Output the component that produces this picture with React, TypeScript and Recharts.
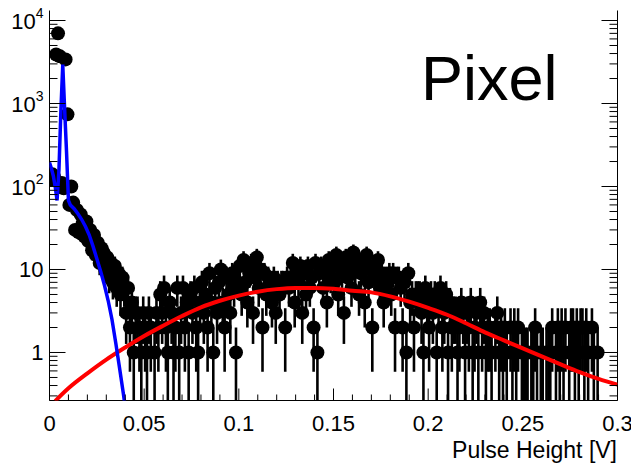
import React from 'react';
import { ComposedChart, XAxis, YAxis, Scatter, ErrorBar } from 'recharts';

const FONT = '"Liberation Sans", Arial, Helvetica, sans-serif';

// Pulse height spectrum: 1 mV bins starting at 0 V
const BIN_WIDTH = 0.001;
const counts = [
  120, 140, 130, 3900, 7000, 3700, 110, 95, 3400, 740,
  60, 100, 64, 30, 52, 28, 46, 36, 25, 38,
  22, 30, 17, 26, 15, 21, 12, 18, 16, 10,
  14, 8, 12, 7, 11, 6, 9, 5, 8, 6,
  3, 6, 2, 4, 1, 3, 3, 2, 1, 3,
  2, 1, 3, 2, 0, 1, 3, 2, 5, 3,
  6, 2, 1, 4, 3, 1, 2, 6, 1, 3,
  6, 2, 4, 1, 5, 3, 6, 2, 1, 4,
  7, 3, 5, 2, 9, 4, 1, 6, 3, 7,
  10, 4, 2, 8, 5, 3, 9, 6, 1, 7,
  11, 5, 13, 7, 4, 9, 12, 3, 8, 14,
  6, 10, 2, 9, 5, 8, 7, 4, 8, 3,
  7, 5, 7, 7, 2, 8, 6, 8, 12, 4,
  10, 7, 11, 3, 9, 5, 11, 6, 8, 2,
  12, 1, 9, 11, 6, 10, 4, 13, 8, 11,
  7, 15, 5, 12, 9, 3, 14, 8, 11, 6,
  16, 10, 13, 5, 9, 12, 4, 15, 7, 10,
  2, 11, 8, 13, 6, 9, 4, 8, 7, 9,
  5, 9, 2, 8, 8, 6, 2, 7, 1, 9,
  4, 5, 2, 5, 5, 5, 3, 1, 6, 4,
  2, 5, 3, 5, 1, 4, 6, 2, 3, 5,
  1, 4, 2, 3, 3, 1, 2, 4, 3, 1,
  3, 2, 4, 1, 2, 3, 1, 4, 2, 3,
  1, 2, 2, 1, 0, 2, 3, 1, 2, 1,
  2, 1, 0, 2, 1, 2, 1, 2, 0, 1,
  1, 1, 1, 0, 1, 1, 2, 1, 0, 1,
  1, 0, 1, 1, 1, 2, 0, 1, 2, 1,
  2, 1, 2, 0, 1, 2, 2, 1, 2, 1,
  2, 2, 1, 2, 1, 0, 2, 1, 0, 1,
];

// Pedestal fit (blue)
const pedestalX = [
  0, 0.001, 0.002, 0.003, 0.004, 0.005, 0.006, 0.007, 0.008, 0.009, 0.01, 0.011,
  0.013, 0.015, 0.017, 0.019, 0.021, 0.023, 0.025, 0.027, 0.029, 0.031, 0.033,
  0.035, 0.037, 0.039, 0.041,
];
const pedestalY = [
  195, 165, 135, 100, 68, 160, 800, 2950, 850, 260, 68, 60,
  54, 47, 40, 33, 26, 19, 13.5, 9.5, 6.5, 4.2, 2.5,
  1.3, 0.65, 0.32, 0.15,
];

// Signal fit (red)
const signalX = [
  0.003, 0.01, 0.02, 0.03, 0.04, 0.05, 0.06, 0.07, 0.08, 0.09, 0.1, 0.11, 0.12,
  0.13, 0.14, 0.15, 0.16, 0.17, 0.18, 0.19, 0.2, 0.21, 0.22, 0.23, 0.24, 0.25,
  0.26, 0.27, 0.28, 0.29, 0.3,
];
const signalY = [
  0.26, 0.37, 0.56, 0.82, 1.15, 1.58, 2.1, 2.75, 3.5, 4.2, 4.85, 5.4, 5.8,
  6.0, 6.0, 5.85, 5.55, 5.3, 4.75, 4.1, 3.45, 2.85, 2.25, 1.75, 1.4, 1.12,
  0.9, 0.72, 0.58, 0.48, 0.41,
];

const xTicks = Array.from({ length: 31 }, (_, i) => Number((i * 0.01).toFixed(2)));
const Y_MIN = 0.264;
const Y_MAX = 13200;
const yTicks: number[] = [];
for (let d = -1; d <= 4; d++) {
  for (let m = 1; m <= 9; m++) {
    const v = Number((m * Math.pow(10, d)).toPrecision(6));
    if (v >= Y_MIN && v <= Y_MAX) yTicks.push(v);
  }
}

// Poisson errors; the lower end is held at the bottom of the frame
const points = counts
  .map((c, i) => ({
    x: BIN_WIDTH * (i + 0.5),
    y: c,
    err: [c - Math.max(c - Math.sqrt(c), Y_MIN), Math.sqrt(c)],
  }))
  .filter((p) => p.y > 0);

const pedestal = pedestalX.map((x, i) => ({ x, y: pedestalY[i] }));
const signal = signalX.map((x, i) => ({ x, y: signalY[i] }));

const isMajorX = (v: number) => Math.abs(v * 20 - Math.round(v * 20)) < 1e-6;
const fmtX = (v: number) => String(Number(v.toFixed(2)));

const decadeOf = (v: number) => {
  const lg = Math.log10(v);
  return Math.abs(lg - Math.round(lg)) < 1e-6 ? Math.round(lg) : null;
};

const BottomTick = (props: any) => {
  const { x, y, payload } = props;
  const major = isMajorX(payload.value);
  return (
    <g>
      <line x1={x} x2={x} y1={y} y2={y - (major ? 12 : 6)} stroke="#000" strokeWidth={1} />
      {major && (
        <text x={x} y={y + 30} textAnchor="middle" fontFamily={FONT} fontSize={22} fill="#000">
          {fmtX(payload.value)}
        </text>
      )}
    </g>
  );
};

const TopTick = (props: any) => {
  const { x, y, payload } = props;
  const major = isMajorX(payload.value);
  return <line x1={x} x2={x} y1={y} y2={y + (major ? 12 : 6)} stroke="#000" strokeWidth={1} />;
};

const LeftTick = (props: any) => {
  const { x, y, payload } = props;
  const n = decadeOf(payload.value);
  const major = n !== null;
  return (
    <g>
      <line x1={x} x2={x + (major ? 16 : 8)} y1={y} y2={y} stroke="#000" strokeWidth={1} />
      {major && (
        <text x={x - 6} y={y + 8} textAnchor="end" fontFamily={FONT} fontSize={22} fill="#000">
          {n === 0 ? '1' : '10'}
          {n !== null && n >= 2 && (
            <tspan fontSize={14} dy={-11}>
              {n}
            </tspan>
          )}
        </text>
      )}
    </g>
  );
};

const RightTick = (props: any) => {
  const { x, y, payload } = props;
  const major = decadeOf(payload.value) !== null;
  return <line x1={x} x2={x - (major ? 16 : 8)} y1={y} y2={y} stroke="#000" strokeWidth={1} />;
};

const Marker = (props: any) => {
  const { cx, cy } = props;
  if (cx == null || cy == null) return <g />;
  return <circle cx={cx} cy={cy} r={7} fill="#000" />;
};

// Fit curves are drawn as point-less scatter series joined by a line
const NoMarker = () => <g />;

export default function App() {
  return (
    <div style={{ position: 'absolute', left: 0, top: 0, width: 631, height: 469, background: '#fff' }}>
      <ComposedChart
        width={631}
        height={469}
        margin={{ top: 10.5, right: 0, bottom: 0, left: 0 }}
      >
        <XAxis
          xAxisId="b"
          type="number"
          dataKey="x"
          orientation="bottom"
          domain={[0, 0.3]}
          ticks={xTicks}
          interval={0}
          height={68.5}
          tickSize={0}
          tickMargin={0}
          tickLine={false}
          tick={BottomTick}
          axisLine={{ stroke: '#000', strokeWidth: 1 }}
          allowDataOverflow
        />
        <XAxis
          xAxisId="t"
          type="number"
          dataKey="x"
          orientation="top"
          domain={[0, 0.3]}
          ticks={xTicks}
          interval={0}
          height={0}
          tickSize={0}
          tickMargin={0}
          tickLine={false}
          tick={TopTick}
          axisLine={{ stroke: '#000', strokeWidth: 1 }}
          allowDataOverflow
        />
        <YAxis
          yAxisId="l"
          type="number"
          dataKey="y"
          scale="log"
          domain={[Y_MIN, Y_MAX]}
          ticks={yTicks}
          interval={0}
          width={49.5}
          tickSize={0}
          tickMargin={0}
          tickLine={false}
          tick={LeftTick}
          axisLine={{ stroke: '#000', strokeWidth: 1 }}
          allowDataOverflow
        />
        <YAxis
          yAxisId="r"
          type="number"
          dataKey="y"
          orientation="right"
          scale="log"
          domain={[Y_MIN, Y_MAX]}
          ticks={yTicks}
          interval={0}
          width={13.5}
          tickSize={0}
          tickMargin={0}
          tickLine={false}
          tick={RightTick}
          axisLine={{ stroke: '#000', strokeWidth: 1 }}
          allowDataOverflow
        />
        <Scatter
          xAxisId="b"
          yAxisId="l"
          data={points}
          dataKey="y"
          shape={Marker}
          isAnimationActive={false}
        >
          <ErrorBar dataKey="err" direction="y" width={0} stroke="#000" strokeWidth={2.6} />
        </Scatter>
        <Scatter
          xAxisId="b"
          yAxisId="l"
          data={signal}
          dataKey="y"
          fill="#ff0000"
          shape={NoMarker}
          line={{ stroke: '#ff0000', strokeWidth: 4 }}
          lineJointType="monotoneX"
          isAnimationActive={false}
        />
        <Scatter
          xAxisId="b"
          yAxisId="l"
          data={pedestal}
          dataKey="y"
          fill="#0000ff"
          shape={NoMarker}
          line={{ stroke: '#0000ff', strokeWidth: 3.5 }}
          lineJointType="linear"
          isAnimationActive={false}
        />
        <text x={421} y={100} fontFamily={FONT} fontSize={63} fill="#000">
          Pixel
        </text>
        <text x={617} y={458} textAnchor="end" fontFamily={FONT} fontSize={23} fill="#000">
          Pulse Height [V]
        </text>
      </ComposedChart>
    </div>
  );
}
